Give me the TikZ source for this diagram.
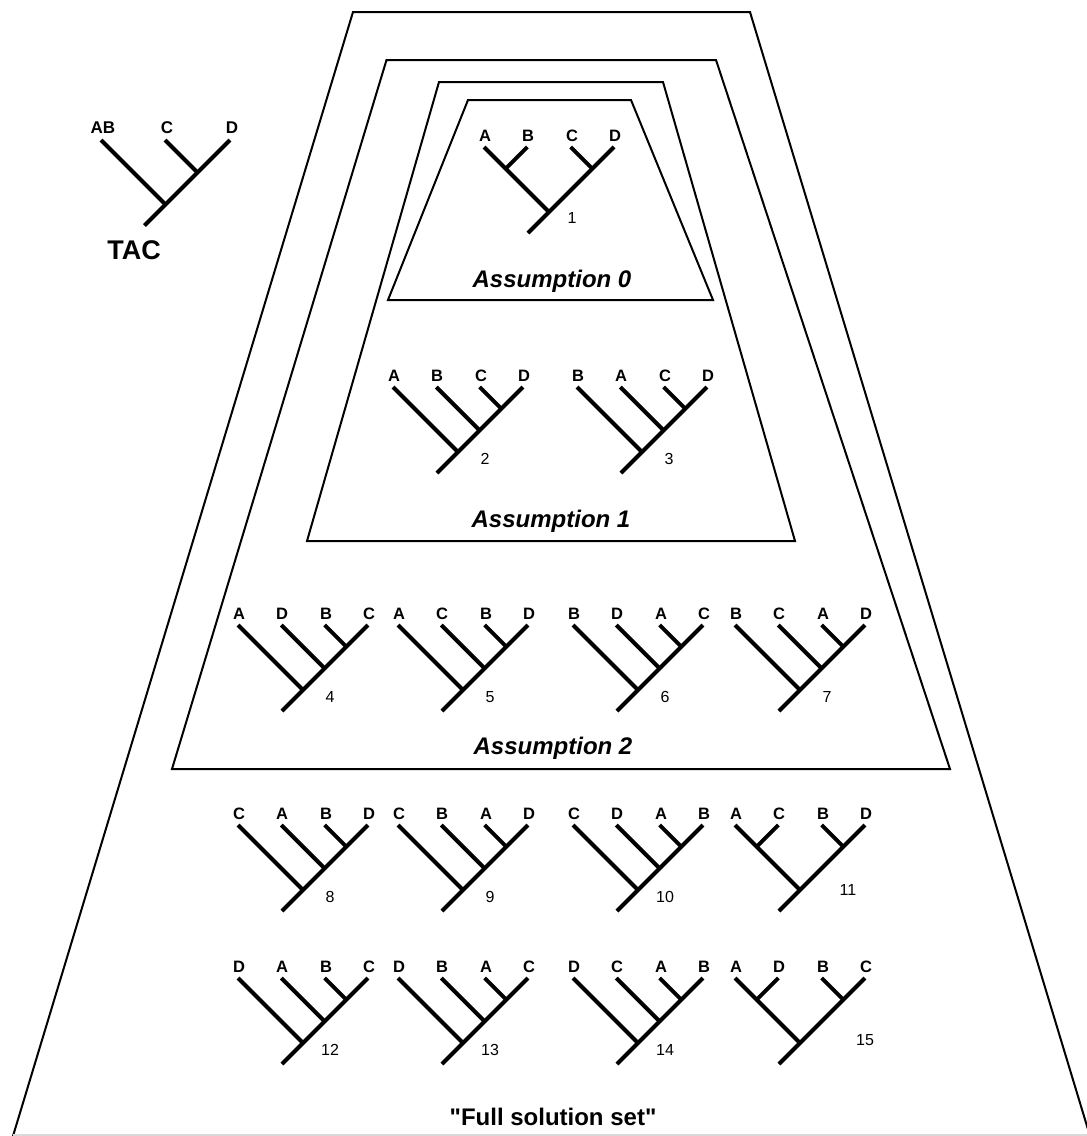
\documentclass[tikz,border=0pt]{standalone}
\usepackage{fontspec}
\setmainfont{Liberation Sans}
\newfontfamily\plainquote{Liberation Sans}[Ligatures=TeXOff]

\tikzset{
  branch/.style={line width=4pt},
  frame/.style={line width=2pt, line join=miter},
  leaf/.style={anchor=south, inner sep=0pt, font=\fontsize{16.5}{16.5}\selectfont\bfseries},
  treenum/.style={inner sep=0pt, font=\fontsize{16}{16}\selectfont},
  boxlabel/.style={inner sep=0pt, font=\fontsize{24}{24}\selectfont\bfseries\itshape},
}

% ladder tree: x0, y0, four leaves, number
\newcommand{\ladder}[7]{%
  \draw[branch] (#1,#2) -- ++(65,65);
  \draw[branch] ({#1+130},#2) -- ++(-86,86);
  \draw[branch] ({#1+43.33},#2) -- ++(43.33,43.33);
  \draw[branch] ({#1+86.67},#2) -- ++(21.67,21.67);
  \node[leaf] (t#7a) at ({#1+1},{#2-5}) {#3};
  \node[leaf] (t#7b) at ({#1+44},{#2-5}) {#4};
  \node[leaf] (t#7c) at ({#1+88},{#2-5}) {#5};
  \node[leaf] (t#7d) at ({#1+131},{#2-5}) {#6};
  \node[treenum] (t#7) at ({#1+92},{#2+72}) {#7};
}

% balanced tree: x0, y0, four leaves, number, number offset
\newcommand{\pairs}[9]{%
  \draw[branch] (#1,#2) -- ++(65,65);
  \draw[branch] ({#1+130},#2) -- ++(-86,86);
  \draw[branch] ({#1+43.33},#2) -- ++(-21.67,21.67);
  \draw[branch] ({#1+86.67},#2) -- ++(21.67,21.67);
  \node[leaf] (t#7a) at ({#1+1},{#2-5}) {#3};
  \node[leaf] (t#7b) at ({#1+44},{#2-5}) {#4};
  \node[leaf] (t#7c) at ({#1+88},{#2-5}) {#5};
  \node[leaf] (t#7d) at ({#1+131},{#2-5}) {#6};
  \node[treenum] (t#7) at ({#1+#8},{#2+#9}) {#7};
}

\begin{document}
\begin{tikzpicture}[x=1pt, y=-1pt]
    \clip (0,0) rectangle (1087,1136);

    % nested solution sets
    \draw[frame] (13,1136) -- (353,12) -- (750,12) -- (1090,1136);
    \draw[gray!30, line width=1.5pt] (13,1135) -- (1087,1135);
    \draw[frame] (172,769) -- (386.5,60) -- (716,60) -- (950,769) -- cycle;
    \draw[frame] (307,541) -- (439,82) -- (663,82) -- (795,541) -- cycle;
    \draw[frame] (388,300) -- (468,100) -- (631,100) -- (713,300) -- cycle;

    \node[boxlabel] (as0) at (552,281) {Assumption 0};
    \node[boxlabel] (as1) at (551,521) {Assumption 1};
    \node[boxlabel] (as2) at (553,748) {Assumption 2};
    \node[inner sep=0pt, font=\fontsize{24}{24}\plainquote\bfseries] (full) at (553,1117) {"Full solution set"};

    % TAC
    \draw[branch] (101,140) -- ++(64.5,64.5);
    \draw[branch] (230,140) -- ++(-85.5,85.5);
    \draw[branch] (165,140) -- ++(32.5,32.5);
    \node[leaf, font=\fontsize{17}{17}\selectfont\bfseries] (tacab) at (103,134) {AB};
    \node[leaf, font=\fontsize{17}{17}\selectfont\bfseries] (tacc) at (167,134) {C};
    \node[leaf, font=\fontsize{17}{17}\selectfont\bfseries] (tacd) at (232,134) {D};
    \node[inner sep=0pt, font=\fontsize{27}{27}\selectfont\bfseries] (tac) at (134,250) {TAC};

    % assumption 0
    \pairs{484}{147}{A}{B}{C}{D}{1}{88}{71}

    % assumption 1
    \ladder{393}{387}{A}{B}{C}{D}{2}
    \ladder{577}{387}{B}{A}{C}{D}{3}

    % assumption 2
    \ladder{238}{625}{A}{D}{B}{C}{4}
    \ladder{398}{625}{A}{C}{B}{D}{5}
    \ladder{573}{625}{B}{D}{A}{C}{6}
    \ladder{735}{625}{B}{C}{A}{D}{7}

    % full solution set
    \ladder{238}{825}{C}{A}{B}{D}{8}
    \ladder{398}{825}{C}{B}{A}{D}{9}
    \ladder{573}{825}{C}{D}{A}{B}{10}
    \pairs{735}{825}{A}{C}{B}{D}{11}{113}{65}

    \ladder{238}{978}{D}{A}{B}{C}{12}
    \ladder{398}{978}{D}{B}{A}{C}{13}
    \ladder{573}{978}{D}{C}{A}{B}{14}
    \pairs{735}{978}{A}{D}{B}{C}{15}{130}{62}

\end{tikzpicture}
\end{document}
